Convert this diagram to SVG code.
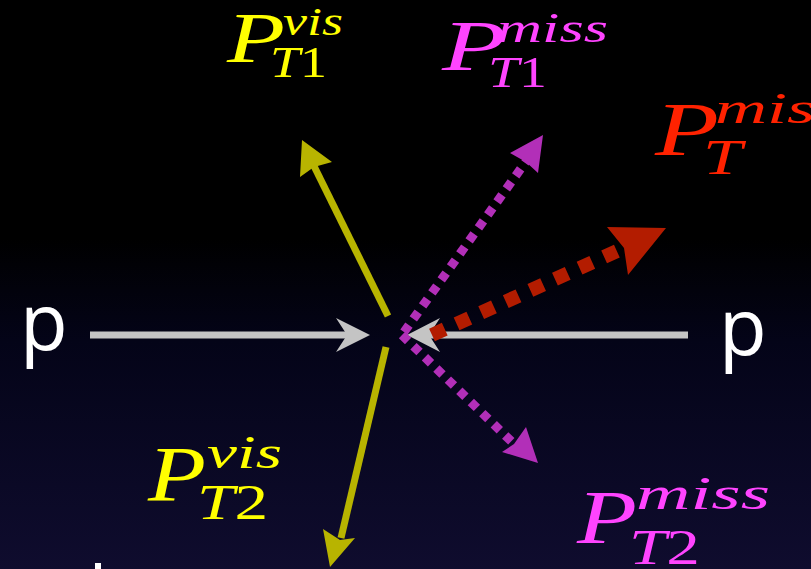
<svg xmlns="http://www.w3.org/2000/svg" width="811" height="569" viewBox="0 0 811 569">
<defs>
<linearGradient id="bg" x1="0" y1="0" x2="0" y2="1">
<stop offset="0" stop-color="#000000"/>
<stop offset="0.42" stop-color="#000000"/>
<stop offset="0.6" stop-color="#040418"/>
<stop offset="1" stop-color="#0f0c2e"/>
</linearGradient>
</defs>
<style>
.gray{stroke:#c4c4c4;stroke-width:7;fill:none}
.grayh{fill:#c4c4c4}
.yel{stroke:#b8b400;stroke-width:7;fill:none}
.yelh{fill:#b8b400}
.mag{stroke:#b22fb8;stroke-width:9;fill:none;stroke-dasharray:8.5 7.5}
.magh{fill:#b22fb8}
.red{stroke:#b31c00;stroke-width:14;fill:none;stroke-dasharray:14 13}
.redh{fill:#b31c00}
.m{font-family:"Liberation Serif","Times New Roman",serif;font-style:italic}
.up{font-style:normal}
.p{font-family:"Open Sans","Liberation Sans",sans-serif;font-size:78px;fill:#ffffff}
.cy{fill:#ffff00}
.cm{fill:#ff44ff}
.cr{fill:#ff2200}
</style>
<rect x="0" y="0" width="811" height="569" fill="url(#bg)"/>
<g id="connectors">
<line class="gray" x1="90" y1="335" x2="350" y2="335"/>
<polygon class="grayh" points="370,335 336,318 347,335 336,352"/>
<line class="gray" x1="428" y1="335" x2="688" y2="335"/>
<polygon class="grayh" points="407,335 440,318 429,335 440,352"/>
<line class="yel" x1="388" y1="316" x2="312" y2="162"/>
<polygon class="yelh" points="302,140 332,162 314,167 300,177"/>
<line class="yel" x1="386" y1="347" x2="341" y2="538"/>
<polygon class="yelh" points="330,567 323,529 340,540 355,538"/>
<line class="mag" x1="404" y1="332" x2="527" y2="160"/>
<polygon class="magh" points="543,135 510,153 526,162 538,173"/>
<line class="mag" x1="402" y1="335" x2="513" y2="443"/>
<polygon class="magh" points="538,463 526,427 514,444 502,452"/>
<line class="red" x1="432" y1="335" x2="626" y2="247"/>
<polygon class="redh" points="666,228 607,227 624,248 628,275"/>
</g>
<g id="p-left"><text class="p" x="20" y="350">p</text></g>
<g id="p-right"><text class="p" x="719" y="355">p</text></g>
<g id="label-pt1-vis" class="cy">
<text class="m" x="227" y="62" font-size="71" textLength="58" lengthAdjust="spacingAndGlyphs">P</text>
<text class="m" x="283" y="35" font-size="40" textLength="60" lengthAdjust="spacingAndGlyphs">vis</text>
<text class="m" x="270" y="77" font-size="45" textLength="57" lengthAdjust="spacingAndGlyphs">T<tspan class="up">1</tspan></text>
</g>
<g id="label-pt1-miss" class="cm">
<text class="m" x="442" y="70" font-size="71" textLength="64" lengthAdjust="spacingAndGlyphs">P</text>
<text class="m" x="497" y="42" font-size="42" textLength="111" lengthAdjust="spacingAndGlyphs">miss</text>
<text class="m" x="488" y="87" font-size="45" textLength="59" lengthAdjust="spacingAndGlyphs">T<tspan class="up">1</tspan></text>
</g>
<g id="label-pt-miss" class="cr">
<text class="m" x="655" y="155" font-size="77" textLength="64" lengthAdjust="spacingAndGlyphs">P</text>
<text class="m" x="715" y="123" font-size="45" textLength="128" lengthAdjust="spacingAndGlyphs">miss</text>
<text class="m" x="703" y="174" font-size="50" textLength="39" lengthAdjust="spacingAndGlyphs">T</text>
</g>
<g id="label-pt2-vis" class="cy">
<text class="m" x="148" y="500" font-size="78" textLength="58" lengthAdjust="spacingAndGlyphs">P</text>
<text class="m" x="207" y="468" font-size="46" textLength="75" lengthAdjust="spacingAndGlyphs">vis</text>
<text class="m" x="197" y="519" font-size="51" textLength="71" lengthAdjust="spacingAndGlyphs">T<tspan class="up">2</tspan></text>
</g>
<g id="label-pt2-miss" class="cm">
<text class="m" x="577" y="543" font-size="77" textLength="60" lengthAdjust="spacingAndGlyphs">P</text>
<text class="m" x="636" y="509" font-size="46" textLength="134" lengthAdjust="spacingAndGlyphs">miss</text>
<text class="m" x="629" y="564" font-size="50" textLength="71" lengthAdjust="spacingAndGlyphs">T<tspan class="up">2</tspan></text>
</g>
<rect x="95" y="563" width="6" height="6" fill="#ffffff"/>
</svg>
